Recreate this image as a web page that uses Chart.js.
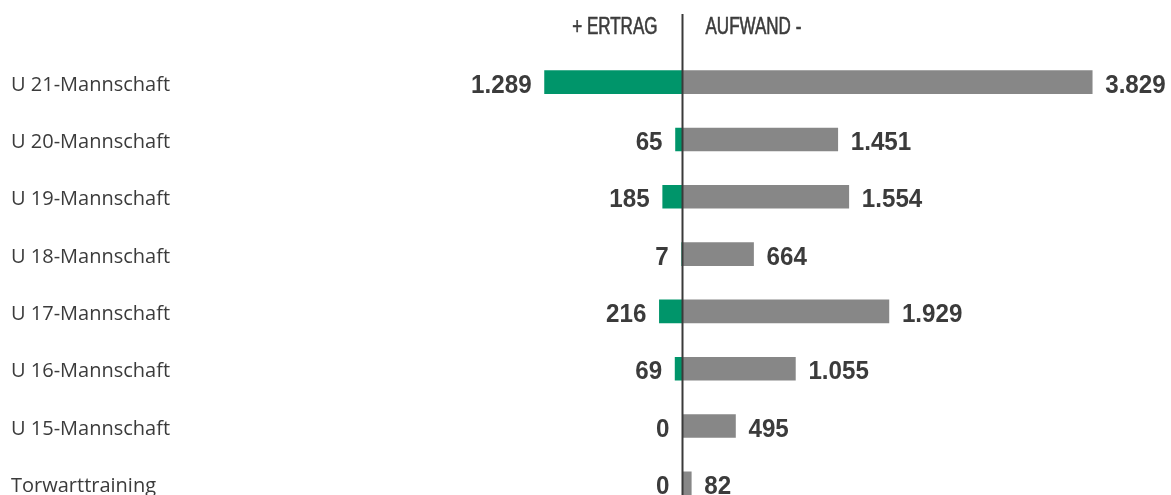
<!DOCTYPE html>
<html>
<head>
<meta charset="utf-8">
<script src="https://cdn.jsdelivr.net/npm/chart.js@4/dist/chart.umd.min.js"></script>
<style>
  html, body { margin: 0; padding: 0; background: #fff; overflow: hidden; }
  #wrap { width: 1171px; height: 524px; }
</style>
</head>
<body>
<div id="wrap"><canvas id="c" width="1171" height="524"></canvas></div>
<script>
const categories = ["U 21-Mannschaft", "U 20-Mannschaft", "U 19-Mannschaft", "U 18-Mannschaft", "U 17-Mannschaft", "U 16-Mannschaft", "U 15-Mannschaft", "Torwarttraining"];
const ertrag = [1289, 65, 185, 7, 216, 69, 0, 0];
const aufwand = [3829, 1451, 1554, 664, 1929, 1055, 495, 82];
const headerLeft = "+ ERTRAG";
const headerRight = "AUFWAND -";

const GREEN = "#00956A";
const GRAY = "#878787";
const TEXT = "#3b3b3b";
const SANS = '"Liberation Sans", Arial, sans-serif';

function fmt(v) {
  return String(Math.round(v)).replace(/\B(?=(\d{3})+(?!\d))/g, ".");
}

// draw text horizontally condensed (real text, scaled)
function narrowText(ctx, text, x, y, align, sx, stroke) {
  ctx.save();
  ctx.translate(x, y);
  ctx.scale(sx, 1);
  ctx.textAlign = align;
  ctx.fillText(text, 0, 0);
  if (stroke) {
    ctx.lineWidth = stroke;
    ctx.strokeStyle = ctx.fillStyle;
    ctx.strokeText(text, 0, 0);
  }
  ctx.restore();
}

const overlay = {
  id: "overlay",
  afterDatasetsDraw(chart) {
    const ctx = chart.ctx;
    const xs = chart.scales.x;
    const x0 = xs.getPixelForValue(0);
    ctx.save();
    // center axis line
    ctx.strokeStyle = "#3a3a3a";
    ctx.lineWidth = 2;
    ctx.beginPath();
    ctx.moveTo(x0, 14);
    ctx.lineTo(x0, chart.height);
    ctx.stroke();
    // headers
    ctx.fillStyle = TEXT;
    ctx.font = "23px " + SANS;
    ctx.textBaseline = "alphabetic";
    narrowText(ctx, headerLeft, x0 - 25, 33.5, "right", 0.74, 0.6);
    narrowText(ctx, headerRight, x0 + 23, 33.5, "left", 0.74, 0.6);
    // value labels
    ctx.font = "bold 26px " + SANS;
    const metaL = chart.getDatasetMeta(0);
    const metaR = chart.getDatasetMeta(1);
    categories.forEach((c, i) => {
      const bl = metaL.data[i];
      const br = metaR.data[i];
      const y = bl.y + 10.5;
      narrowText(ctx, fmt(ertrag[i]), Math.min(bl.x, x0) - 13, y, "right", 0.93);
      narrowText(ctx, fmt(aufwand[i]), Math.max(br.x, x0) + 13, y, "left", 0.93);
    });
    ctx.restore();
  }
};

new Chart(document.getElementById("c"), {
  type: "bar",
  data: {
    labels: categories,
    datasets: [
      { label: "Ertrag", data: ertrag.map(v => -v), backgroundColor: GREEN, barThickness: 23, stack: "s" },
      { label: "Aufwand", data: aufwand, backgroundColor: GRAY, barThickness: 23, stack: "s" }
    ]
  },
  options: {
    indexAxis: "y",
    responsive: false,
    animation: false,
    events: [],
    layout: { padding: { left: 11, right: 7, top: 53.5, bottom: 0 } },
    plugins: { legend: { display: false }, tooltip: { enabled: false } },
    scales: {
      x: { display: false, stacked: true, min: -4000, max: 4500 },
      y: {
        stacked: true,
        grid: { display: false },
        border: { display: false },
        ticks: {
          crossAlign: "far",
          padding: 0,
          labelOffset: 3,
          color: TEXT,
          font: { family: '"Open Sans", sans-serif', size: 20 }
        },
        afterFit(s) { s.width = 243.5; }
      }
    }
  },
  plugins: [overlay]
});
</script>
</body>
</html>
